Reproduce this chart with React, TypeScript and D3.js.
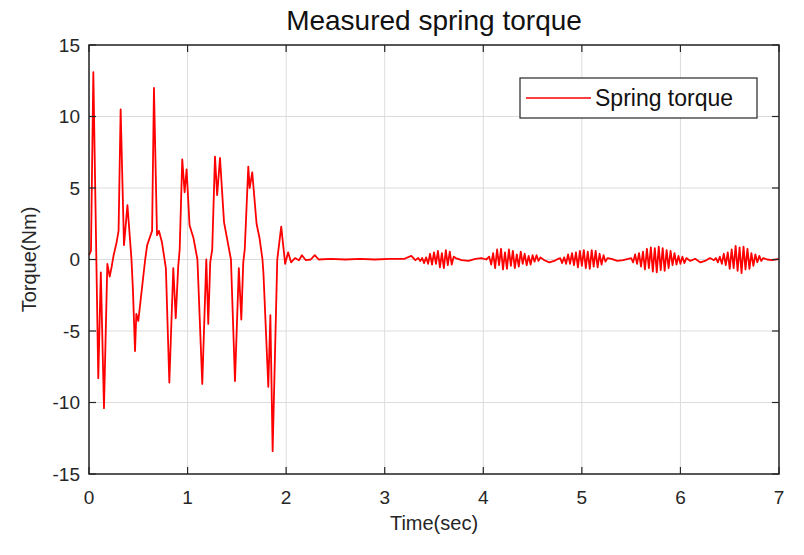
import React from "react";
import * as d3 from "d3";

// ---- data ----
const xTicks = [0, 1, 2, 3, 4, 5, 6, 7];
const yTicks = [-15, -10, -5, 0, 5, 10, 15];

// transient phase (time s, torque Nm)
const transient: [number, number][] = [
  [0, 0.3], [0.02, 0.6], [0.044, 13.1], [0.07, 2], [0.094, -8.3], [0.12, -0.9], [0.152, -10.4],
  [0.186, -0.3], [0.21, -1.2], [0.23, -0.5], [0.25, 0.3], [0.28, 1.2], [0.3, 2.0], [0.321, 10.5],
  [0.355, 1.0], [0.39, 3.8], [0.43, 0.1], [0.445, -2], [0.467, -6.4], [0.48, -3.8], [0.5, -4.3],
  [0.57, 0], [0.59, 1.0], [0.62, 1.6], [0.64, 2.0], [0.659, 12.0], [0.69, 1.7], [0.71, 2.0],
  [0.74, 1.2], [0.78, -0.6], [0.815, -8.6], [0.855, -0.6], [0.88, -4.1], [0.905, -0.5], [0.92, 0.7],
  [0.946, 7.0], [0.97, 4.7], [0.99, 6.3], [1.02, 2.4], [1.06, 1.5], [1.1, 0], [1.149, -8.7],
  [1.19, 0], [1.21, -4.5], [1.23, -0.2], [1.25, 0.7], [1.278, 7.2], [1.3, 4.5], [1.329, 7.1],
  [1.37, 2.6], [1.4, 1.5], [1.44, 0], [1.481, -8.5], [1.52, -0.6], [1.545, -4.2], [1.565, -0.2],
  [1.58, 0.7], [1.616, 6.5], [1.63, 5.0], [1.656, 6.1], [1.7, 2.5], [1.73, 1.5], [1.76, 0],
  [1.77, -1], [1.819, -8.9], [1.84, -3.9], [1.863, -13.4], [1.91, 0], [1.95, 2.3], [1.99, -0.3],
  [2.02, 0.5], [2.05, -0.2], [2.09, 0.1], [2.13, -0.05], [2.16, 0.3], [2.2, -0.05], [2.25, 0.0],
  [2.29, 0.3], [2.33, 0.0],
];

// quiet stretches between vibration bursts
const quiet1: [number, number][] = [
  [2.45, 0.05], [2.6, 0.0], [2.75, 0.05], [2.9, 0.0], [3.05, 0.05], [3.2, 0.05], [3.27, 0.25],
  [3.31, -0.05], [3.34, 0.1], [3.36, -0.1],
];
const quiet2: [number, number][] = [[3.72, 0.1], [3.78, -0.05], [3.85, -0.1], [3.92, 0.05], [3.98, 0.1], [4.03, 0.0]];
const quiet3: [number, number][] = [[4.62, -0.05], [4.67, -0.2], [4.72, -0.1], [4.76, 0.05]];
const quiet4: [number, number][] = [[5.3, 0.05], [5.36, -0.1], [5.42, -0.05], [5.47, 0.05]];
const quiet5: [number, number][] = [[6.1, -0.1], [6.15, 0.05], [6.2, -0.2], [6.25, -0.1], [6.3, 0.1], [6.34, -0.05]];
const quiet6: [number, number][] = [[6.88, 0.0], [6.93, -0.05], [7.0, 0.05]];

// vibration bursts: sampled every 0.02 s from start time
const burstStep = 0.02;
const burst1Start = 3.38;
const burst1 = [0.1, -0.25, 0.15, -0.3, 0.4, -0.35, 0.5, -0.3, 0.6, -0.55, 0.45, -0.6, 0.65, -0.4, 0.55, -0.35, 0.2];
const burst2Start = 4.06;
const burst2 = [0.2, -0.35, 0.45, -0.6, 0.7, -0.4, 0.75, -0.7, 0.5, -0.65, 0.7, -0.45, 0.6, -0.6, 0.35, -0.5, 0.55, -0.3, 0.4, -0.4, 0.25, -0.35, 0.3, -0.15, 0.3, -0.1, 0.15];
const burst3Start = 4.78;
const burst3 = [0.1, -0.25, 0.15, -0.3, 0.35, -0.3, 0.45, -0.4, 0.5, -0.55, 0.6, -0.45, 0.65, -0.6, 0.55, -0.65, 0.65, -0.5, 0.6, -0.55, 0.4, -0.35, 0.3, -0.15, 0.1];
const burst4Start = 5.5;
const burst4 = [0.1, -0.2, 0.35, -0.3, 0.45, -0.5, 0.55, -0.7, 0.75, -0.6, 0.85, -0.85, 0.8, -0.9, 0.9, -0.75, 0.8, -0.8, 0.65, -0.6, 0.6, -0.4, 0.45, -0.35, 0.25, -0.3, 0.2, -0.25, 0.1];
const burst5Start = 6.36;
const burst5 = [0.1, -0.2, 0.2, -0.3, 0.4, -0.4, 0.5, -0.65, 0.7, -0.6, 0.95, -0.8, 0.85, -0.95, 0.9, -0.7, 0.75, -0.65, 0.45, -0.45, 0.35, -0.2, 0.25, -0.1, 0.1];

const title = "Measured spring torque";
const xLabel = "Time(sec)";
const yLabel = "Torque(Nm)";
const legendLabel = "Spring torque";

function burstPoints(start: number, vals: number[]): [number, number][] {
  return vals.map((v, i) => [start + i * burstStep, v]);
}

const series: [number, number][] = [
  ...transient,
  ...quiet1,
  ...burstPoints(burst1Start, burst1),
  ...quiet2,
  ...burstPoints(burst2Start, burst2),
  ...quiet3,
  ...burstPoints(burst3Start, burst3),
  ...quiet4,
  ...burstPoints(burst4Start, burst4),
  ...quiet5,
  ...burstPoints(burst5Start, burst5),
  ...quiet6,
];

export default function App() {
  const W = 804, H = 555;
  const L = 89, R = 779, T = 45, B = 474;
  const x = d3.scaleLinear().domain([0, 7]).range([L, R]);
  const y = d3.scaleLinear().domain([-15, 15]).range([B, T]);
  const line = d3.line<[number, number]>().x(d => x(d[0])).y(d => y(d[1]));
  const font = "'Liberation Sans', Arial, sans-serif";
  const axisColor = "#262626";
  const tickLen = 7;

  return (
    <svg width={W} height={H} style={{ position: "absolute", left: 0, top: 0, background: "#fff" }}
      fontFamily={font}>
      <rect x={0} y={0} width={W} height={H} fill="#fff" />
      <rect x={L} y={T} width={R - L} height={B - T} fill="#fff" />
      {/* grid */}
      {xTicks.map(t => (
        <line key={"gx" + t} x1={x(t)} x2={x(t)} y1={T} y2={B} stroke="#dcdcdc" strokeWidth={1} />
      ))}
      {yTicks.map(t => (
        <line key={"gy" + t} x1={L} x2={R} y1={y(t)} y2={y(t)} stroke="#dcdcdc" strokeWidth={1} />
      ))}
      {/* data */}
      <path d={line(series) || ""} fill="none" stroke="#ff0000" strokeWidth={1.8} strokeLinejoin="round" />
      {/* box */}
      <rect x={L} y={T} width={R - L} height={B - T} fill="none" stroke={axisColor} strokeWidth={1.5} />
      {xTicks.map(t => (
        <g key={"tx" + t}>
          <line x1={x(t)} x2={x(t)} y1={B} y2={B - tickLen} stroke={axisColor} strokeWidth={1.2} />
          <line x1={x(t)} x2={x(t)} y1={T} y2={T + tickLen} stroke={axisColor} strokeWidth={1.2} />
          <text x={x(t)} y={B + 30} textAnchor="middle" fontSize={19} fill="#262626">{t}</text>
        </g>
      ))}
      {yTicks.map(t => (
        <g key={"ty" + t}>
          <line x1={L} x2={L + tickLen} y1={y(t)} y2={y(t)} stroke={axisColor} strokeWidth={1.2} />
          <line x1={R} x2={R - tickLen} y1={y(t)} y2={y(t)} stroke={axisColor} strokeWidth={1.2} />
          <text x={L - 9} y={y(t)} dy="0.35em" textAnchor="end" fontSize={19} fill="#262626">{t}</text>
        </g>
      ))}
      {/* labels */}
      <text x={(L + R) / 2} y={30} textAnchor="middle" fontSize={28} fill="#111">{title}</text>
      <text x={(L + R) / 2} y={530} textAnchor="middle" fontSize={20} fill="#262626">{xLabel}</text>
      <text transform={`translate(36,${(T + B) / 2}) rotate(-90)`} textAnchor="middle" fontSize={20} fill="#262626">{yLabel}</text>
      {/* legend */}
      <g>
        <rect x={520} y={78} width={237} height={40} fill="#fff" stroke={axisColor} strokeWidth={1.2} />
        <line x1={526} x2={591} y1={98} y2={98} stroke="#ff0000" strokeWidth={1.7} />
        <text x={595} y={98} dy="0.35em" fontSize={23} fill="#111">{legendLabel}</text>
      </g>
    </svg>
  );
}
